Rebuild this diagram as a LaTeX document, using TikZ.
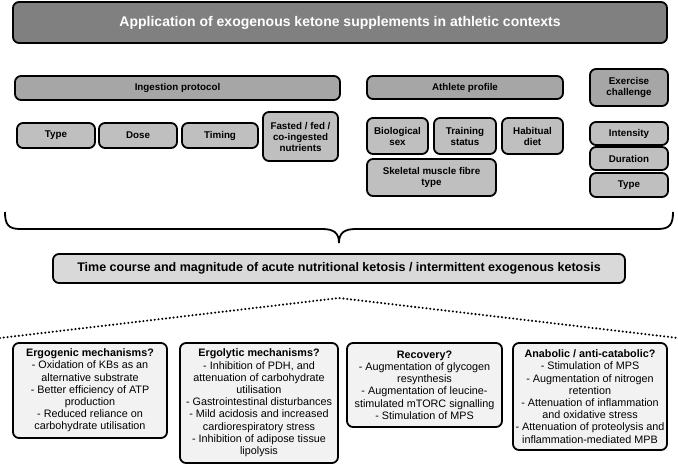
\documentclass[tikz,border=0pt]{standalone}
\usepackage{fontspec}
\setmainfont{Liberation Sans}
\begin{document}
\begin{tikzpicture}[x=1pt,y=-1pt,line width=1.8pt,
box/.style = {draw, rounded corners=6pt, inner sep=0pt, align=center},
titlebox/.style = {box, fill=black!50, text=white, font=\fontsize{14}{16}\selectfont\bfseries},
groupbox/.style = {box, fill=black!35, font=\fontsize{9.8}{11}\selectfont\bfseries},
itembox/.style = {box, fill=black!25, font=\fontsize{9.8}{11}\selectfont\bfseries},
ketobox/.style = {box, fill=black!15, font=\fontsize{12.5}{14}\selectfont\bfseries},
effectbox/.style = {box, fill=black!5, font=\fontsize{10.8}{12.2}\selectfont},]
\useasboundingbox (0,0) rectangle (678,465);
\node (app) at (340,22.5)[titlebox, minimum width=654pt, minimum height=41pt] {Application of exogenous ketone supplements in athletic contexts};
\node (ingest) at (177.5,88)[groupbox, minimum width=325pt, minimum height=24pt] {Ingestion protocol};
\node (athlete) at (465,87.5)[groupbox, minimum width=196pt, minimum height=23pt] {Athlete profile};
\node (exchal) at (629,87.5)[groupbox, minimum width=78pt, minimum height=37pt] {Exercise\\challenge};
\node (ktype) at (56,135.5)[itembox, minimum width=78pt, minimum height=25pt] {Type};
\node (dose) at (138,135.5)[itembox, minimum width=78pt, minimum height=25pt] {Dose};
\node (timing) at (220,135.5)[itembox, minimum width=76pt, minimum height=25pt] {Timing};
\node (fasted) at (300.5,136.5)[itembox, minimum width=75pt, minimum height=49pt] {Fasted / fed /\\co-ingested\\nutrients};
\node (biosex) at (397.5,136)[itembox, minimum width=61pt, minimum height=36pt] {Biological\\sex};
\node (training) at (465,136)[itembox, minimum width=62pt, minimum height=36pt] {Training\\status};
\node (diet) at (532.5,136)[itembox, minimum width=61pt, minimum height=36pt] {Habitual\\diet};
\node (fibre) at (431.5,177.5)[itembox, minimum width=129pt, minimum height=37pt] {Skeletal muscle fibre\\type};
\node (intensity) at (629,133.5)[itembox, minimum width=78pt, minimum height=23pt] {Intensity};
\node (duration) at (629,158.5)[itembox, minimum width=78pt, minimum height=23pt] {Duration};
\node (etype) at (629,185)[itembox, minimum width=78pt, minimum height=24pt] {Type};
\draw (5,212) .. controls (5,224) and (8,229) .. (20,229) -- (322,229) .. controls (334,229) and (339,233) .. (339,243)
  .. controls (339,233) and (344,229) .. (356,229) -- (658,229) .. controls (670,229) and (673,224) .. (673,212);
\node (ketosis) at (339,268.5)[ketobox, minimum width=572pt, minimum height=29pt] {Time course and magnitude of acute nutritional ketosis / intermittent exogenous ketosis};
\coordinate (L) at (0,338);
\coordinate (apex) at (339,298);
\coordinate (R) at (678,338);
\draw[line width=2.3pt, line cap=round, dash pattern=on 0pt off 3.8pt] (L) -- (apex) -- (R);
\node (ergogenic) at (90,390.5)[effectbox, minimum width=154pt, minimum height=95pt] {\textbf{Ergogenic mechanisms?}\\- Oxidation of KBs as an\\alternative substrate\\- Better efficiency of ATP\\production\\- Reduced reliance on\\carbohydrate utilisation};
\node (ergolytic) at (259,403)[effectbox, minimum width=158pt, minimum height=120pt] {\textbf{Ergolytic mechanisms?}\\- Inhibition of PDH, and\\attenuation of carbohydrate\\utilisation\\- Gastrointestinal disturbances\\- Mild acidosis and increased\\cardiorespiratory stress\\- Inhibition of adipose tissue\\lipolysis};
\node (recovery) at (424.5,385)[effectbox, minimum width=155pt, minimum height=84pt] {\textbf{Recovery?}\\- Augmentation of glycogen\\resynthesis\\- Augmentation of leucine-\\stimulated mTORC signalling\\- Stimulation of MPS};
\node (anabolic) at (590,396.5)[effectbox, minimum width=154pt, minimum height=107pt] {\textbf{Anabolic / anti-catabolic?}\\- Stimulation of MPS\\- Augmentation of nitrogen\\retention\\- Attenuation of inflammation\\and oxidative stress\\- Attenuation of proteolysis and\\inflammation-mediated MPB};
\end{tikzpicture}
\end{document}
